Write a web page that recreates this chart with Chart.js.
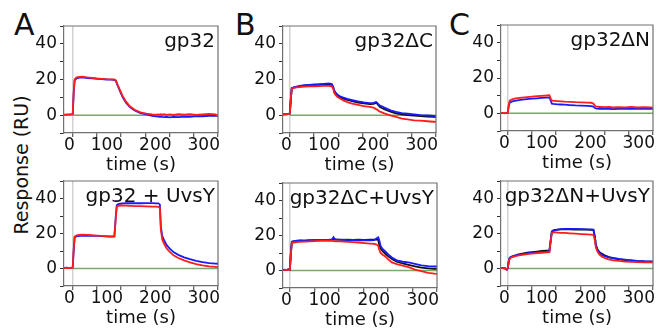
<!DOCTYPE html>
<html>
<head>
<meta charset="utf-8">
<script src="https://cdn.jsdelivr.net/npm/chart.js@4"></script>
<style>
  body { margin: 0; width: 661px; height: 328px; overflow: hidden; position: relative; background: #fff;
         font-family: "DejaVu Sans", sans-serif; color: #111; }
  canvas { position: absolute; }
  .letter { position: absolute; font-size: 30px; line-height: 30px; }
  .ylab { position: absolute; font-size: 19px; white-space: nowrap; transform: translate(-50%, -50%) rotate(-90deg); }
</style>
</head>
<body>
<div class="letter" style="left:14px;top:10px">A</div>
<div class="letter" style="left:235px;top:10px">B</div>
<div class="letter" style="left:449px;top:10px">C</div>
<div class="ylab" style="left:21px;top:165px">Response (RU)</div>

<canvas id="pA1"></canvas>
<canvas id="pB1"></canvas>
<canvas id="pC1"></canvas>
<canvas id="pA2"></canvas>
<canvas id="pB2"></canvas>
<canvas id="pC2"></canvas>

<script>
// sample times (s), shared by every sensorgram
const time = [
    -18, -12, -6, -2, 0,
    2, 4, 8, 14, 20,
    30, 40, 50, 60, 70,
    80, 86, 89, 91, 94,
    98, 103, 110, 118, 128,
    140, 152, 164, 172, 177,
    180, 182, 185, 189, 194,
    200, 208, 218, 230, 242,
    255, 268, 282, 295, 300
];

const xTicks = [0, 50, 100, 150, 200, 250, 300];
const xLabels = [0, 100, 200, 300];
const yTicks = [-10, 0, 10, 20, 30, 40, 50];
const yLabels = [0, 20, 40];

// green reference line
const baselineTime = [0, 300];
const baselineValue = [0, 0];

// A: gp32
const gpBlue = [
    0.3, 0.2, 0.4, 0.3, 0.5,
    12.0, 19.5, 20.6, 21.0, 21.2,
    20.8, 20.6, 20.4, 20.2, 20.0,
    19.9, 19.7, 19.2, 17.8, 15.8,
    13.2, 10.2, 7.0, 4.5, 2.6,
    1.2, 0.4, -0.4, -0.7, -0.8,
    -0.9, -0.8, -1.0, -1.1, -1.0,
    -1.2, -1.0, -1.1, -0.8, -0.9,
    -0.5, -0.6, -0.4, -0.3, -0.6
];
const gpRed = [
    0.2, 0.4, 0.3, 0.5, 0.6,
    13.0, 20.0, 21.2, 21.5, 21.6,
    21.2, 20.9, 20.6, 20.4, 20.2,
    20.1, 20.0, 19.5, 18.2, 16.3,
    13.8, 10.8, 7.6, 5.0, 3.0,
    1.6, 0.9, 0.5, 0.3, 0.4,
    0.2, 0.5, 0.3, 0.6, 0.2,
    0.4, 0.1, 0.5, 0.3, 0.6,
    0.2, 0.5, 0.7, 0.4, -0.4
];

// A: gp32 + UvsY
const gpUvsyBlue = [
    0.3, 0.5, 0.2, 0.4, 0.6,
    10.0, 17.8, 18.4, 18.6, 18.7,
    18.8, 18.7, 18.6, 18.5, 18.4,
    18.3, 18.4, 30.0, 36.2, 36.8,
    37.0, 37.2, 37.3, 37.3, 37.4,
    37.3, 37.4, 37.3, 37.2, 37.2,
    36.5, 24.0, 18.5, 16.0, 13.3,
    11.5, 9.4, 7.8, 6.4, 5.3,
    4.4, 3.6, 3.1, 2.8, 2.7
];
const gpUvsyRed = [
    0.2, 0.4, 0.3, 0.5, 0.5,
    11.0, 18.3, 18.9, 19.2, 19.3,
    19.2, 19.0, 18.8, 18.6, 18.4,
    18.2, 18.3, 29.0, 35.2, 35.8,
    36.0, 36.0, 35.9, 35.8, 35.7,
    35.6, 35.5, 35.4, 35.3, 35.2,
    34.5, 22.0, 16.5, 14.0, 11.4,
    9.6, 7.5, 6.0, 4.6, 3.5,
    2.5, 1.8, 1.2, 0.9, 0.8
];

// B: gp32ΔC
const dcBlue = [
    0.4, 0.5, 0.6, 0.8, 1.0,
    9.0, 15.0, 15.6, 16.0, 16.4,
    16.8, 17.0, 17.2, 17.4, 17.6,
    17.8, 17.5, 16.0, 14.0, 12.6,
    11.5, 10.6, 9.9, 9.2, 8.5,
    7.7, 7.2, 6.8, 6.9, 7.4,
    6.8, 6.0, 5.4, 5.0, 4.3,
    3.5, 2.6, 1.8, 1.2, 0.8,
    0.4, 0.0, -0.2, -0.4, -0.5
];
const dcRed = [
    0.3, 0.4, 0.5, 0.7, 0.9,
    9.0, 15.0, 15.3, 15.6, 15.8,
    16.0, 16.2, 16.2, 16.3, 16.4,
    16.4, 16.2, 15.0, 12.5, 11.3,
    10.2, 9.3, 8.3, 7.3, 6.5,
    5.8, 5.1, 4.6, 4.2, 3.4,
    3.0, 2.5, 2.0, 1.6, 1.0,
    0.5, -0.2, -1.0, -2.0, -2.4,
    -2.9, -3.1, -3.4, -3.7, -3.8
];
const dcBlack = [
    0.4, 0.5, 0.5, 0.7, 0.9,
    9.0, 15.2, 15.5, 15.9, 16.2,
    16.5, 16.7, 16.9, 17.0, 17.2,
    17.3, 17.1, 15.5, 13.4, 12.0,
    11.0, 10.1, 9.3, 8.6, 7.9,
    7.1, 6.6, 6.2, 6.3, 6.9,
    6.2, 5.4, 4.6, 4.0, 3.4,
    2.6, 1.8, 1.0, 0.4, 0.0,
    -0.3, -0.5, -0.8, -1.0, -1.1
];

// B: gp32ΔC + UvsY
const dcUvsyBlue = [
    0.2, 0.5, 0.3, 0.8, 0.6,
    10.0, 16.5, 16.8, 17.0, 17.2,
    17.0, 17.3, 17.4, 17.2, 17.5,
    17.6, 17.8, 19.0, 18.0, 17.8,
    17.7, 17.5, 17.6, 17.4, 17.5,
    17.3, 17.4, 17.2, 17.3, 18.5,
    19.0, 17.5, 14.0, 12.3, 11.0,
    9.3, 7.4, 5.8, 5.0, 4.6,
    3.8, 2.9, 2.5, 2.3, 2.3
];
const dcUvsyRed = [
    0.2, 0.4, 0.3, 0.6, 0.5,
    9.0, 15.8, 16.0, 16.2, 16.4,
    16.5, 16.6, 16.8, 16.9, 17.0,
    17.0, 16.9, 16.8, 16.8, 16.7,
    16.7, 16.6, 16.5, 16.4, 16.2,
    16.0, 15.7, 15.4, 15.2, 14.8,
    14.3, 12.0, 10.0, 9.0, 8.2,
    6.5, 4.6, 3.6, 2.8, 1.9,
    0.5, -0.4, -1.3, -1.8, -1.9
];
const dcUvsyBlack = [
    0.2, 0.4, 0.4, 0.7, 0.6,
    10.0, 16.3, 16.6, 16.8, 17.0,
    17.1, 17.2, 17.3, 17.4, 17.4,
    17.5, 17.6, 17.9, 17.7, 17.7,
    17.6, 17.6, 17.5, 17.6, 17.5,
    17.6, 17.5, 17.6, 17.6, 17.6,
    17.5, 15.0, 12.5, 11.0, 9.7,
    8.2, 6.6, 5.0, 4.0, 3.2,
    2.4, 1.6, 1.2, 0.9, 0.9
];

// C: gp32ΔN
const dnBlue = [
    0.1, 0.2, 0.0, 0.2, 0.3,
    4.0, 6.0, 6.6, 7.0, 7.4,
    7.8, 8.1, 8.3, 8.5, 8.7,
    8.9, 9.0, 7.0, 5.5, 5.3,
    5.2, 5.1, 5.0, 4.9, 4.7,
    4.5, 4.4, 4.2, 4.1, 3.8,
    3.0, 2.8, 2.7, 2.6, 2.7,
    2.5, 2.6, 2.4, 2.6, 2.5,
    2.7, 2.5, 2.6, 2.7, 2.6
];
const dnRed = [
    0.1, 0.2, 0.1, 0.3, 0.4,
    5.0, 7.2, 7.8, 8.3, 8.6,
    8.9, 9.2, 9.5, 9.7, 9.9,
    10.1, 10.3, 8.2, 7.3, 7.1,
    7.0, 6.9, 6.8, 6.6, 6.5,
    6.3, 6.2, 6.1, 6.0, 5.5,
    4.3, 3.9, 3.8, 3.6, 3.7,
    3.5, 3.6, 3.3, 3.5, 3.4,
    3.6, 3.3, 3.5, 3.4, 3.2
];

// C: gp32ΔN + UvsY
const dnUvsyBlue = [
    0.2, 0.3, 0.1, -0.8, 0.2,
    4.0, 6.2, 6.8, 7.3, 7.7,
    8.2, 8.6, 8.9, 9.2, 9.5,
    9.7, 9.9, 17.0, 21.0, 21.5,
    21.8, 22.2, 22.5, 22.7, 22.7,
    22.6, 22.5, 22.4, 22.3, 22.2,
    18.0, 13.0, 10.8, 9.0, 7.9,
    7.0, 6.4, 6.0, 5.5, 5.1,
    4.7, 4.4, 4.2, 4.1, 4.0
];
const dnUvsyRed = [
    0.2, 0.2, 0.0, -0.6, 0.3,
    4.0, 5.8, 6.4, 6.9, 7.3,
    7.8, 8.2, 8.5, 8.8, 9.0,
    9.2, 9.3, 16.0, 20.3, 20.6,
    20.6, 20.5, 20.4, 20.3, 20.1,
    19.9, 19.7, 19.5, 19.3, 19.2,
    16.0, 12.0, 9.8, 8.0, 6.9,
    6.0, 5.2, 4.7, 4.3, 4.0,
    3.8, 3.6, 3.5, 3.5, 3.4
];
const dnUvsyBlack = [
    0.2, 0.3, 0.1, -0.5, 0.3,
    4.0, 6.0, 6.7, 7.3, 7.9,
    8.5, 9.0, 9.4, 9.7, 10.0,
    10.2, 10.3, 17.0, 21.2, 21.8,
    22.0, 22.2, 22.3, 22.4, 22.4,
    22.3, 22.3, 22.2, 22.1, 22.0,
    18.0, 13.5, 11.2, 9.5, 8.5,
    7.5, 6.6, 5.8, 5.2, 4.8,
    4.6, 4.2, 4.0, 3.9, 3.8
];

// plot boxes in page pixels: [left, top, right, bottom]
const panels = [
    { id: "pA1", title: "gp32",        box: [64, 26, 218, 133],  xMin: -18, blue: gpBlue,     red: gpRed,     black: null },
    { id: "pB1", title: "gp32ΔC",      box: [283, 26, 436, 133], xMin: -14, blue: dcBlue,     red: dcRed,     black: dcBlack },
    { id: "pC1", title: "gp32ΔN",      box: [501, 25, 653, 131], xMin: -14, blue: dnBlue,     red: dnRed,     black: null },
    { id: "pA2", title: "gp32 + UvsY", box: [64, 181, 218, 286], xMin: -18, blue: gpUvsyBlue, red: gpUvsyRed, black: null },
    { id: "pB2", title: "gp32ΔC+UvsY", box: [283, 183, 437, 288], xMin: -14, blue: dcUvsyBlue, red: dcUvsyRed, black: dcUvsyBlack },
    { id: "pC2", title: "gp32ΔN+UvsY", box: [501, 181, 653, 286], xMin: -14, blue: dnUvsyBlue, red: dnUvsyRed, black: dnUvsyBlack }
];

const FONT = '"DejaVu Sans", sans-serif';
Chart.defaults.font.family = FONT;
Chart.defaults.color = "#111";

const pad = { l: 60, t: 12, r: 8, b: 45 };

// frame round the plot + panel name in the top right corner
const panelPlugin = {
    id: "panelDeco",
    afterDraw(chart, args, opts) {
        const { ctx, chartArea: a } = chart;
        ctx.save();
        ctx.strokeStyle = "#707070";
        ctx.lineWidth = 1.2;
        ctx.beginPath();
        ctx.moveTo(a.left, a.top);
        ctx.lineTo(a.right, a.top);
        ctx.lineTo(a.right, a.bottom);
        ctx.stroke();
        ctx.fillStyle = "#111";
        ctx.font = "20px " + FONT;
        ctx.textAlign = "right";
        ctx.textBaseline = "alphabetic";
        ctx.fillText(opts.text, a.right - 3, a.top + 21);
        ctx.restore();
    }
};

function trace(values, color, order) {
    return {
        data: time.map((t, i) => ({ x: t, y: values[i] })),
        borderColor: color,
        borderWidth: 1.8,
        pointRadius: 0,
        fill: false,
        order
    };
}

function makePanel(p) {
    const canvas = document.getElementById(p.id);
    canvas.width = p.box[2] - p.box[0] + pad.l + pad.r;
    canvas.height = p.box[3] - p.box[1] + pad.t + pad.b;
    canvas.style.left = (p.box[0] - pad.l) + "px";
    canvas.style.top = (p.box[1] - pad.t) + "px";

    const datasets = [
        trace(p.red, "#ff1c1c", 1),
        trace(p.blue, "#1a1aff", 2)
    ];
    if (p.black) {
        datasets.push(trace(p.black, "#111111", 3));
    }
    datasets.push({
        data: baselineTime.map((t, i) => ({ x: t, y: baselineValue[i] })),
        borderColor: "#78a86a",
        borderWidth: 1.5,
        pointRadius: 0,
        order: 4
    });

    new Chart(canvas, {
        type: "line",
        data: { datasets },
        plugins: [panelPlugin],
        options: {
            responsive: false,
            animation: false,
            events: [],
            layout: { padding: { left: 0, top: pad.t, right: pad.r, bottom: 0 } },
            plugins: {
                legend: { display: false },
                tooltip: { enabled: false },
                panelDeco: { text: p.title }
            },
            scales: {
                x: {
                    type: "linear",
                    min: p.xMin,
                    max: 300,
                    afterBuildTicks: s => { s.ticks = xTicks.map(v => ({ value: v })); },
                    afterFit: s => { s.height = pad.b; },
                    grid: {
                        drawOnChartArea: true,
                        color: c => (c.tick && c.tick.value === 0 ? "#d2d2d2" : "rgba(0,0,0,0)"),
                        lineWidth: 1.5,
                        tickColor: "#333",
                        tickWidth: 1,
                        tickLength: 4
                    },
                    border: { color: "#707070", width: 1.2 },
                    ticks: {
                        autoSkip: false,
                        maxRotation: 0,
                        align: "end",
                        labelOffset: 2,
                        padding: 0,
                        font: { size: 17, lineHeight: 1 },
                        callback: v => (xLabels.includes(v) ? String(v) : "")
                    },
                    title: {
                        display: true,
                        text: "time (s)",
                        font: { size: 18 },
                        padding: { top: 0, bottom: 2 }
                    }
                },
                y: {
                    min: -10,
                    max: 50,
                    afterBuildTicks: s => { s.ticks = yTicks.map(v => ({ value: v })); },
                    afterFit: s => { s.width = pad.l; },
                    grid: {
                        drawOnChartArea: false,
                        color: "rgba(0,0,0,0)",
                        tickColor: "#333",
                        tickWidth: 1,
                        tickLength: 4
                    },
                    border: { color: "#707070", width: 1.2 },
                    ticks: {
                        autoSkip: false,
                        padding: 3,
                        font: { size: 17, lineHeight: 1 },
                        callback: v => (yLabels.includes(v) ? String(v) : "")
                    }
                }
            }
        }
    });
}

panels.forEach(makePanel);
</script>
</body>
</html>
